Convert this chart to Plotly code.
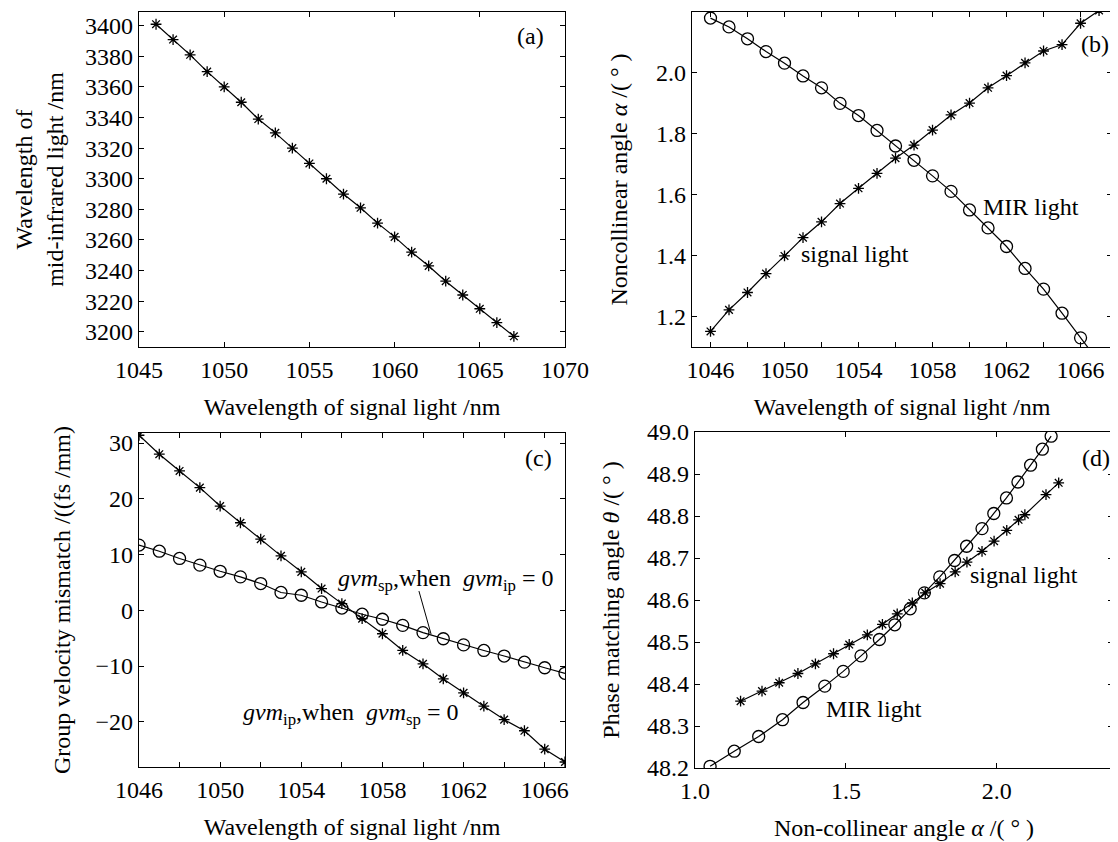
import plotly.graph_objects as go

# ---------------- data ----------------
signal_wl = [1046, 1047, 1048, 1049, 1050, 1051, 1052, 1053, 1054, 1055, 1056,
             1057, 1058, 1059, 1060, 1061, 1062, 1063, 1064, 1065, 1066, 1067]

# (a) wavelength of mid-infrared light (nm)
mir_wl = [3401, 3391, 3381, 3370, 3360, 3350, 3339, 3330, 3320, 3310, 3300,
          3290, 3281, 3271, 3262, 3252, 3243, 3233, 3224, 3215, 3206, 3197]

# (b) non-collinear angle (deg)
alpha_signal = [1.151, 1.222, 1.279, 1.341, 1.399, 1.459, 1.511, 1.571, 1.621, 1.670, 1.720,
                1.763, 1.812, 1.862, 1.901, 1.951, 1.991, 2.033, 2.072, 2.093, 2.163, 2.205]
alpha_mir = [2.180, 2.151, 2.112, 2.070, 2.032, 1.990, 1.951, 1.900, 1.860, 1.811, 1.760,
             1.713, 1.662, 1.611, 1.550, 1.491, 1.430, 1.358, 1.290, 1.211, 1.130, 1.050]

# (c) group velocity mismatch (fs/mm)
gvm_ip = [31.4, 28.0, 25.0, 22.0, 18.7, 15.7, 12.75, 9.76, 6.9, 3.9, 1.2,
          -1.5, -4.2, -7.2, -9.6, -12.3, -14.8, -17.2, -19.6, -21.6, -24.9, -27.2]
gvm_sp = [11.7, 10.6, 9.3, 8.1, 7.0, 6.0, 4.8, 3.2, 2.7, 1.5, 0.4,
          -0.7, -1.6, -2.7, -4.0, -5.1, -6.2, -7.2, -8.2, -9.3, -10.3, -11.3]

# (d) phase matching angle (deg)
theta_signal = [48.359, 48.383, 48.403, 48.425, 48.448, 48.472, 48.494, 48.517, 48.542, 48.567, 48.593,
                48.617, 48.639, 48.667, 48.690, 48.716, 48.740, 48.766, 48.791, 48.803, 48.851, 48.879]
theta_mir = [48.990, 48.959, 48.921, 48.881, 48.843, 48.806, 48.770, 48.728, 48.694, 48.655, 48.617,
             48.579, 48.541, 48.506, 48.467, 48.430, 48.395, 48.356, 48.315, 48.275, 48.240, 48.204]

# ---------------- style ----------------
FONT = "Liberation Serif, Times New Roman, Times, serif"
TICK = 24
TITLE = 24
OFF = 8                      # default page margin of the html body
W, H = 1118 - OFF, 842 - OFF

star = dict(symbol="asterisk-open", size=9, color="black", line=dict(width=1.3, color="black"))
circ = dict(symbol="circle-open", size=12, color="black", line=dict(width=1.3, color="black"))
line = dict(color="black", width=1.2)

fig = go.Figure()

fig.add_trace(go.Scatter(x=signal_wl, y=mir_wl, mode="lines+markers", marker=star, line=line,
                         xaxis="x", yaxis="y", showlegend=False))
fig.add_trace(go.Scatter(x=signal_wl, y=alpha_mir, mode="lines+markers", marker=circ, line=line,
                         xaxis="x2", yaxis="y2", showlegend=False))
fig.add_trace(go.Scatter(x=signal_wl, y=alpha_signal, mode="lines+markers", marker=star, line=line,
                         xaxis="x2", yaxis="y2", showlegend=False))
fig.add_trace(go.Scatter(x=signal_wl, y=gvm_ip, mode="lines+markers", marker=star, line=line,
                         xaxis="x3", yaxis="y3", showlegend=False))
fig.add_trace(go.Scatter(x=signal_wl, y=gvm_sp, mode="lines+markers", marker=circ, line=line,
                         xaxis="x3", yaxis="y3", showlegend=False))
fig.add_trace(go.Scatter(x=alpha_mir, y=theta_mir, mode="lines+markers", marker=circ, line=line,
                         xaxis="x4", yaxis="y4", showlegend=False))
fig.add_trace(go.Scatter(x=alpha_signal, y=theta_signal, mode="lines+markers", marker=star, line=line,
                         xaxis="x4", yaxis="y4", showlegend=False))


def ax(dom, rng, title, standoff, anchor, **kw):
    d = dict(domain=dom, range=rng, anchor=anchor,
             showline=True, linecolor="black", linewidth=1.2, mirror="ticks",
             ticks="inside", ticklen=5, tickwidth=1, tickcolor="black",
             showgrid=False, zeroline=False, automargin=False,
             tickfont=dict(family=FONT, size=TICK, color="black"),
             title=dict(text=title, font=dict(family=FONT, size=TITLE, color="black"),
                        standoff=standoff))
    d.update(kw)
    return d


def px(a, b):
    return [(a - OFF) / W, min(1.0, (b - OFF) / W)]


def py(top, bottom):
    return [1 - (bottom - OFF) / H, 1 - (top - OFF) / H]


minor2 = dict(ticks="inside", ticklen=5, tickcolor="black", dtick=2, tick0=1046)
XS = 1     # gap between x axis line and its tick labels
XT = 16    # gap between x tick labels and the x title

fig.update_layout(
    width=W, height=H,
    margin=dict(l=0, r=0, t=0, b=0),
    paper_bgcolor="white", plot_bgcolor="white",
    font=dict(family=FONT, color="black"),
    xaxis=ax(px(139, 565), [1045, 1070], "Wavelength of signal light /nm", XT, "y",
             tickmode="array", tickvals=[1045, 1050, 1055, 1060, 1065, 1070],
             ticklabelstandoff=XS),
    yaxis=ax(py(12, 347), [3190, 3409], "Wavelength of<br>mid-infrared light /nm", 14, "x",
             tickmode="array", tickvals=list(range(3200, 3401, 20))),
    xaxis2=ax(px(692, 1112), [1045, 1067.7], "Wavelength of signal light /nm", XT, "y2",
              tickmode="array", tickvals=[1046, 1050, 1054, 1058, 1062, 1066], minor=minor2,
              ticklabelstandoff=XS),
    yaxis2=ax(py(12, 347), [1.1, 2.2], "Noncollinear angle <i>α</i> /( ° )", 21, "x2",
              tickmode="array", tickvals=[1.2, 1.4, 1.6, 1.8, 2.0, 2.2], tickformat=".1f"),
    xaxis3=ax(px(139, 565), [1046, 1067], "Wavelength of signal light /nm", XT, "y3",
              tickmode="array", tickvals=[1046, 1050, 1054, 1058, 1062, 1066], minor=minor2,
              ticklabelstandoff=XS),
    yaxis3=ax(py(433, 767), [-28.1, 31.8], "Group velocity mismatch /((fs /mm)", 18, "x3",
              tickmode="array", tickvals=[-20, -10, 0, 10, 20, 30],
              ticktext=["−20", "−10", "0", "10", "20", "30"]),
    xaxis4=ax(px(695, 1113), [1.0, 2.385], "Non-collinear angle <i>α</i> /( ° )", XT, "y4",
              tickmode="array", tickvals=[1.0, 1.5, 2.0], tickformat=".1f",
              ticklabelstandoff=XS),
    yaxis4=ax(py(432, 768), [48.2, 49.0], "Phase matching angle <i>θ</i> /( ° )", 20, "x4",
              tickmode="array", tickvals=[48.2, 48.3, 48.4, 48.5, 48.6, 48.7, 48.8, 48.9, 49.0],
              tickformat=".1f"),
)

afont = dict(family=FONT, size=TITLE, color="black")
ann = [
    dict(x=1068.0, y=3393.5, xref="x", yref="y", text="(a)"),
    dict(x=1066.8, y=2.096, xref="x2", yref="y2", text="(b)"),
    dict(x=1065.7, y=27.3, xref="x3", yref="y3", text="(c)"),
    dict(x=2.328, y=48.937, xref="x4", yref="y4", text="(d)"),
    dict(x=1060.6, y=1.56, xref="x2", yref="y2", text="MIR light", xanchor="left"),
    dict(x=1050.8, y=1.405, xref="x2", yref="y2", text="signal light", xanchor="left"),
    dict(x=1055.7, y=5.4, xref="x3", yref="y3", xanchor="left",
         text="<i>gvm</i><sub>sp</sub>,when  <i>gvm</i><sub>ip</sub> = 0"),
    dict(x=1051.05, y=-18.6, xref="x3", yref="y3", xanchor="left",
         text="<i>gvm</i><sub>ip</sub>,when  <i>gvm</i><sub>sp</sub> = 0"),
    dict(x=1.905, y=48.66, xref="x4", yref="y4", text="signal light", xanchor="left"),
    dict(x=1.426, y=48.34, xref="x4", yref="y4", text="MIR light", xanchor="left"),
]
for a in ann:
    a.setdefault("xanchor", "center")
    a.update(showarrow=False, font=afont, yanchor="middle")
fig.update_layout(annotations=ann)

# leader line from the gvm_sp label to its curve
fig.add_shape(type="line", xref="x3", yref="y3", x0=1059.8, y0=3.45, x1=1060.4, y1=-4.3,
              line=dict(color="black", width=1))

fig.write_html("out.html")
